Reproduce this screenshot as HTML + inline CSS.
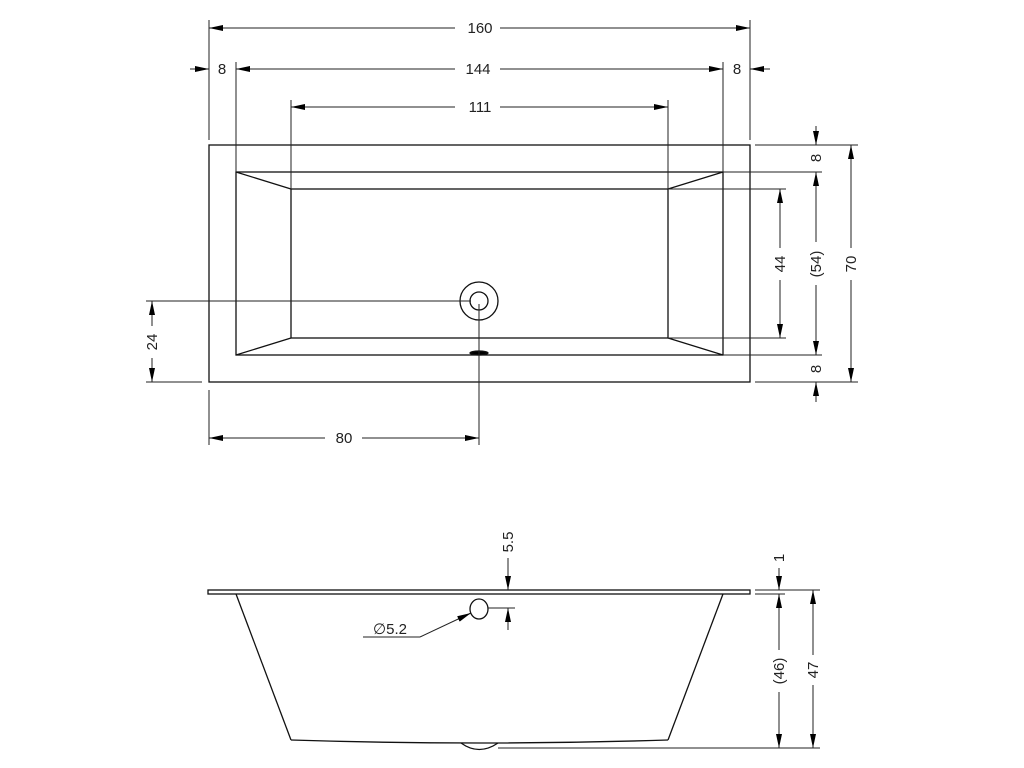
<!DOCTYPE html>
<html><head><meta charset="utf-8"><style>
html,body{margin:0;padding:0;background:#fff;}
svg{display:block;}
text{font-family:"Liberation Sans",Arial,sans-serif;font-size:15px;fill:#222;}
</style></head><body>
<svg width="1024" height="768" viewBox="0 0 1024 768" xmlns="http://www.w3.org/2000/svg">
<defs>
<marker id="a" viewBox="0 0 14 6" refX="14" refY="3" markerWidth="14" markerHeight="6" markerUnits="userSpaceOnUse" orient="auto-start-reverse">
<path d="M0,0 L14,3 L0,6 Z" fill="#000"/>
</marker>
</defs>
<g stroke="#111" stroke-width="1.3" fill="none">
<rect x="209" y="145" width="541" height="237"/>
<rect x="236" y="172" width="487" height="183"/>
<rect x="291" y="189" width="377" height="149"/>
<line x1="236" y1="172" x2="291" y2="189"/>
<line x1="723" y1="172" x2="668" y2="189"/>
<line x1="236" y1="355" x2="291" y2="338"/>
<line x1="723" y1="355" x2="668" y2="338"/>
<circle cx="479" cy="301" r="19"/>
<circle cx="479" cy="301" r="9"/>
<ellipse cx="479" cy="353" rx="9" ry="2" fill="#000"/>
</g>
<g stroke="#222" stroke-width="1" fill="none">
<line x1="209" y1="20" x2="209" y2="140"/>
<line x1="750" y1="20" x2="750" y2="140"/>
<line x1="236" y1="62" x2="236" y2="172"/>
<line x1="723" y1="62" x2="723" y2="172"/>
<line x1="291" y1="100" x2="291" y2="189"/>
<line x1="668" y1="100" x2="668" y2="189"/>
<line x1="209" y1="28" x2="455" y2="28" marker-start="url(#a)"/>
<line x1="500" y1="28" x2="750" y2="28" marker-end="url(#a)"/>
<line x1="236" y1="69" x2="455" y2="69" marker-start="url(#a)"/>
<line x1="500" y1="69" x2="723" y2="69" marker-end="url(#a)"/>
<line x1="190" y1="69" x2="209" y2="69" marker-end="url(#a)"/>
<line x1="770" y1="69" x2="750" y2="69" marker-end="url(#a)"/>
<line x1="291" y1="107" x2="455" y2="107" marker-start="url(#a)"/>
<line x1="500" y1="107" x2="668" y2="107" marker-end="url(#a)"/>
<line x1="755" y1="145" x2="858" y2="145"/>
<line x1="755" y1="382" x2="858" y2="382"/>
<line x1="723" y1="172" x2="822" y2="172"/>
<line x1="723" y1="355" x2="822" y2="355"/>
<line x1="668" y1="189" x2="786" y2="189"/>
<line x1="668" y1="338" x2="786" y2="338"/>
<line x1="780" y1="189" x2="780" y2="248" marker-start="url(#a)"/>
<line x1="780" y1="280" x2="780" y2="338" marker-end="url(#a)"/>
<line x1="816" y1="172" x2="816" y2="242" marker-start="url(#a)"/>
<line x1="816" y1="285" x2="816" y2="355" marker-end="url(#a)"/>
<line x1="816" y1="126" x2="816" y2="145" marker-end="url(#a)"/>
<line x1="816" y1="402" x2="816" y2="382" marker-end="url(#a)"/>
<line x1="851" y1="145" x2="851" y2="248" marker-start="url(#a)"/>
<line x1="851" y1="280" x2="851" y2="382" marker-end="url(#a)"/>
<line x1="146" y1="301" x2="471" y2="301"/>
<line x1="146" y1="382" x2="202" y2="382"/>
<line x1="152" y1="301" x2="152" y2="326" marker-start="url(#a)"/>
<line x1="152" y1="358" x2="152" y2="382" marker-end="url(#a)"/>
<line x1="209" y1="390" x2="209" y2="445"/>
<line x1="479" y1="304" x2="479" y2="445"/>
<line x1="209" y1="438" x2="325" y2="438" marker-start="url(#a)"/>
<line x1="362" y1="438" x2="479" y2="438" marker-end="url(#a)"/>
</g>
<g text-anchor="middle">
<text x="480" y="33">160</text>
<text x="478" y="74">144</text>
<text x="480" y="112">111</text>
<text x="222" y="74">8</text>
<text x="737" y="74">8</text>
<text x="344" y="443">80</text>
<text transform="translate(785,264) rotate(-90)">44</text>
<text transform="translate(821,264) rotate(-90)">(54)</text>
<text transform="translate(856,264) rotate(-90)">70</text>
<text transform="translate(821,158) rotate(-90)">8</text>
<text transform="translate(821,369) rotate(-90)">8</text>
<text transform="translate(157,342) rotate(-90)">24</text>
</g>
<g stroke="#111" stroke-width="1.3" fill="none">
<rect x="208" y="590" width="542" height="4"/>
<line x1="236" y1="594" x2="291" y2="740"/>
<line x1="723" y1="594" x2="668" y2="740"/>
<path d="M291,740 Q479,746 668,740"/>
<path d="M461,743 Q479,756 498,743"/>
<ellipse cx="479" cy="609" rx="9" ry="10"/>
</g>
<g stroke="#222" stroke-width="1" fill="none">
<line x1="498" y1="748" x2="820" y2="748"/>
<line x1="488" y1="608" x2="515" y2="608"/>
<line x1="508" y1="558" x2="508" y2="590" marker-end="url(#a)"/>
<line x1="508" y1="630" x2="508" y2="608" marker-end="url(#a)"/>
<polyline points="363,637 420,637"/>
<line x1="420" y1="637" x2="471" y2="613" marker-end="url(#a)"/>
<line x1="755" y1="590" x2="820" y2="590"/>
<line x1="755" y1="594" x2="785" y2="594"/>
<line x1="779" y1="568" x2="779" y2="590" marker-end="url(#a)"/>
<line x1="779" y1="594" x2="779" y2="650" marker-start="url(#a)"/>
<line x1="779" y1="692" x2="779" y2="748" marker-end="url(#a)"/>
<line x1="813" y1="590" x2="813" y2="655" marker-start="url(#a)"/>
<line x1="813" y1="685" x2="813" y2="748" marker-end="url(#a)"/>
</g>
<g text-anchor="middle">
<text transform="translate(513,542) rotate(-90)">5.5</text>
<text transform="translate(784,558) rotate(-90)">1</text>
<text transform="translate(784,671) rotate(-90)">(46)</text>
<text transform="translate(818,670) rotate(-90)">47</text>
<text x="390" y="634">∅5.2</text>
</g>
</svg>
</body></html>
